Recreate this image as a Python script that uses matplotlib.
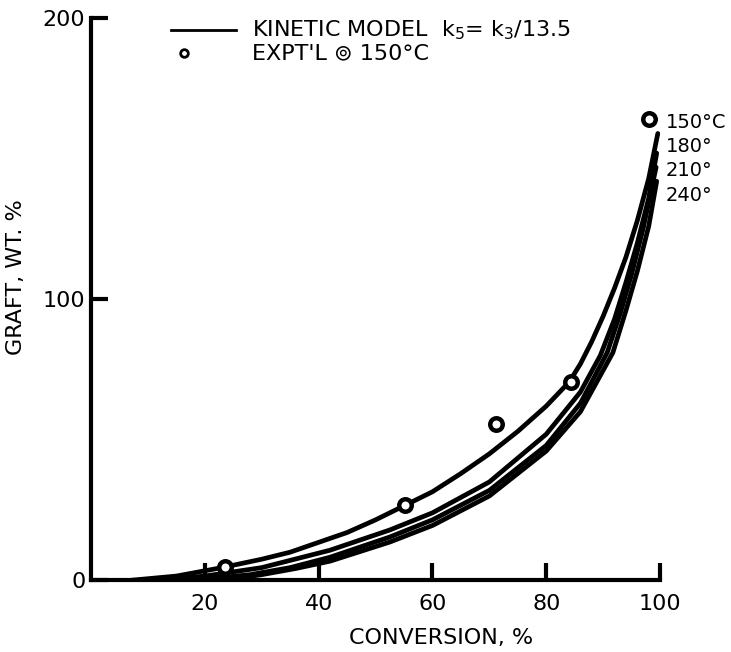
import matplotlib.pyplot as plt

# model curves, graft wt.% vs conversion %
conv_150 = [7, 15, 23, 30, 35, 40, 45, 50, 55, 60, 65, 70, 75, 80, 84,
            86, 88, 90, 92, 94, 96, 98, 99.6]
graft_150 = [0, 1.5, 4.5, 7.5, 10, 13.5, 17, 21.5, 26.5, 31.5, 38, 45, 53, 62, 70.5,
             77, 85, 94, 104, 115, 128, 143, 159]

conv_180 = [12, 20, 30, 42, 52.5, 60, 70, 80, 86, 89.5, 92, 94, 96, 98, 99.4]
graft_180 = [0, 1.5, 4.5, 10.7, 17.9, 24, 35, 52, 67, 80, 93, 106, 120, 136, 152]

conv_210 = [18, 28, 35, 42, 52.5, 60, 70, 80, 86, 90.7, 93, 95, 97, 99.3]
graft_210 = [0, 2, 4.5, 8.2, 15.4, 21.5, 32, 48, 63, 81, 95, 109, 125, 147]

conv_240 = [23, 30, 36, 42, 52.5, 60, 70, 80, 86, 91.7, 94, 96, 98, 99.4]
graft_240 = [0, 2, 4.2, 6.8, 13.6, 19.5, 30, 46, 60, 81, 96, 110, 126, 142]

# experimental points at 150 C
exp_conv = [23.5, 55.2, 71.2, 84.4, 98.0]
exp_graft = [4.6, 26.8, 55.7, 70.7, 164.0]

curve_labels = ["150°C", "180°", "210°", "240°"]
label_y = [163, 154.3, 145.7, 136.8]

fig = plt.figure(figsize=(7.31, 6.52), dpi=100)
ax = fig.add_axes([0.1245, 0.110, 0.7785, 0.862])

for cx, cy in [(conv_150, graft_150), (conv_180, graft_180),
               (conv_210, graft_210), (conv_240, graft_240)]:
    ax.plot(cx, cy, color='black', lw=3.4, solid_capstyle='round', solid_joinstyle='round')

ax.plot(exp_conv, exp_graft, 'o', ms=9, mfc='white', mec='black', mew=3.2)

for lab, ly in zip(curve_labels, label_y):
    ax.text(101.0, ly, lab, fontsize=14, va='center', ha='left')

# legend drawn by hand like the original
ax.plot([14, 25.5], [195.7, 195.7], color='black', lw=2, clip_on=False)
ax.text(28.3, 195.7, "KINETIC MODEL  k$_5$= k$_3$/13.5", fontsize=16, va='center')
ax.plot([16.3], [187.5], 'o', ms=5.5, mfc='white', mec='black', mew=2)
ax.text(28.3, 187.5, "EXPT'L ⊚ 150°C", fontsize=16, va='center')

ax.set_xlim(0, 100)
ax.set_ylim(0, 200)
ax.set_xticks([20, 40, 60, 80, 100])
ax.set_yticks([0, 100, 200])
ax.spines['top'].set_visible(False)
ax.spines['right'].set_visible(False)
ax.spines['left'].set_linewidth(3)
ax.spines['bottom'].set_linewidth(3)
ax.tick_params(direction='in', length=12, width=3, labelsize=16)
ax.tick_params(axis='x', pad=10)
ax.tick_params(axis='y', pad=4)

ax.set_xlabel("CONVERSION, %", fontsize=16)
ax.set_ylabel("GRAFT, WT. %", fontsize=16)
ax.xaxis.set_label_coords(0.615, -0.085)
ax.yaxis.set_label_coords(-0.115, 0.54)

fig.savefig("out.png", dpi=100)
